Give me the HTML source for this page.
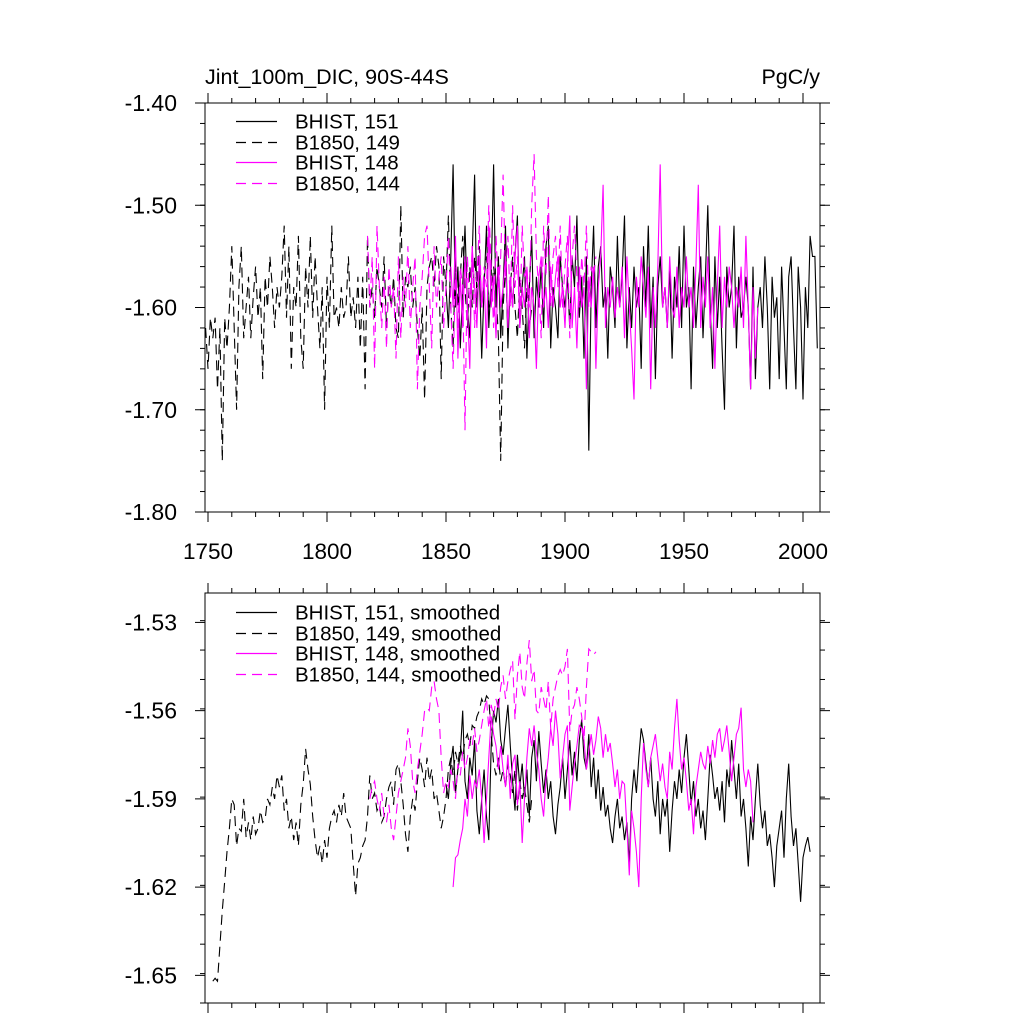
<!DOCTYPE html>
<html><head><meta charset="utf-8"><style>
html,body{margin:0;padding:0;background:#fff;}
svg text{font-family:"Liberation Sans",sans-serif;}
</style></head><body>
<svg id="chart" width="1024" height="1024" xmlns="http://www.w3.org/2000/svg">
<rect width="1024" height="1024" fill="#fff"/>
<g id="top"></g>
<g id="bot"></g>
</svg>
<script>
// ---------- data ----------
const topYTicks = [-1.40,-1.50,-1.60,-1.70,-1.80];
const topYTickLabels = ["-1.40","-1.50","-1.60","-1.70","-1.80"];
const botYTicks = [-1.53,-1.56,-1.59,-1.62,-1.65];
const botYTickLabels = ["-1.53","-1.56","-1.59","-1.62","-1.65"];
const xTicks = [1750,1800,1850,1900,1950,2000];
const xTickLabels = ["1750","1800","1850","1900","1950","2000"];

const b149Start = 1749;
const b149 = [-1.62,-1.66,-1.61,-1.63,-1.61,-1.68,-1.62,-1.75,-1.61,-1.64,
-1.60,-1.54,-1.62,-1.70,-1.58,-1.54,-1.63,-1.60,-1.57,-1.63,
-1.59,-1.56,-1.61,-1.58,-1.67,-1.57,-1.60,-1.55,-1.58,-1.62,
-1.58,-1.60,-1.57,-1.52,-1.61,-1.54,-1.66,-1.58,-1.60,-1.53,
-1.63,-1.66,-1.56,-1.60,-1.53,-1.61,-1.55,-1.60,-1.64,-1.58,
-1.70,-1.57,-1.62,-1.52,-1.61,-1.60,-1.62,-1.58,-1.61,-1.60,
-1.55,-1.61,-1.59,-1.62,-1.57,-1.64,-1.57,-1.68,-1.53,-1.60,
-1.58,-1.61,-1.56,-1.58,-1.60,-1.55,-1.62,-1.58,-1.60,-1.57,
-1.62,-1.63,-1.50,-1.61,-1.57,-1.58,-1.56,-1.60,-1.58,-1.62,
-1.65,-1.60,-1.69,-1.58,-1.56,-1.55,-1.58,-1.54,-1.56,-1.67,
-1.55,-1.58,-1.51,-1.60,-1.64,-1.55,-1.60,-1.57,-1.53,-1.58,
-1.62,-1.56,-1.60,-1.55,-1.58,-1.54,-1.60,-1.57,-1.55,-1.60,
-1.59,-1.56,-1.58,-1.63,-1.75,-1.60,-1.56,-1.62,-1.58,-1.55,
-1.60,-1.63,-1.57,-1.60,-1.64,-1.58,-1.62,-1.60];
const b144Start = 1817;
const b144 = [-1.53,-1.60,-1.55,-1.66,-1.52,-1.58,-1.62,-1.57,-1.64,-1.56,
-1.60,-1.58,-1.65,-1.55,-1.63,-1.57,-1.60,-1.54,-1.62,-1.58,
-1.55,-1.68,-1.60,-1.57,-1.53,-1.52,-1.58,-1.64,-1.54,-1.60,
-1.57,-1.55,-1.62,-1.58,-1.53,-1.60,-1.66,-1.57,-1.62,-1.56,
-1.58,-1.72,-1.55,-1.60,-1.54,-1.62,-1.57,-1.52,-1.60,-1.56,
-1.58,-1.50,-1.56,-1.62,-1.53,-1.58,-1.55,-1.47,-1.57,-1.53,
-1.60,-1.50,-1.58,-1.55,-1.62,-1.52,-1.57,-1.56,-1.60,-1.50,
-1.45,-1.55,-1.58,-1.63,-1.52,-1.57,-1.49,-1.60,-1.55,-1.53,
-1.58,-1.52,-1.60,-1.56,-1.53,-1.63,-1.55,-1.52,-1.57,-1.60,
-1.55,-1.58,-1.52,-1.60,-1.56,-1.57,-1.55];
const h151Start = 1850;
const h151 = [-1.58,-1.62,-1.55,-1.46,-1.60,-1.56,-1.64,-1.58,-1.52,-1.60,
-1.63,-1.55,-1.47,-1.60,-1.56,-1.65,-1.58,-1.52,-1.62,-1.57,
-1.46,-1.60,-1.55,-1.63,-1.58,-1.52,-1.64,-1.57,-1.60,-1.55,
-1.51,-1.62,-1.58,-1.55,-1.65,-1.58,-1.53,-1.63,-1.57,-1.60,
-1.56,-1.62,-1.54,-1.52,-1.64,-1.58,-1.60,-1.63,-1.55,-1.58,
-1.60,-1.57,-1.62,-1.55,-1.58,-1.51,-1.61,-1.57,-1.65,-1.55,
-1.74,-1.58,-1.52,-1.62,-1.56,-1.54,-1.60,-1.58,-1.65,-1.56,
-1.58,-1.62,-1.53,-1.60,-1.57,-1.51,-1.64,-1.58,-1.62,-1.56,
-1.60,-1.58,-1.66,-1.54,-1.60,-1.52,-1.62,-1.57,-1.67,-1.58,
-1.55,-1.60,-1.58,-1.62,-1.56,-1.65,-1.57,-1.60,-1.54,-1.62,
-1.52,-1.60,-1.58,-1.68,-1.56,-1.62,-1.58,-1.55,-1.63,-1.57,
-1.50,-1.60,-1.66,-1.55,-1.62,-1.57,-1.64,-1.70,-1.56,-1.60,
-1.58,-1.52,-1.64,-1.57,-1.61,-1.60,-1.57,-1.60,-1.68,-1.56,
-1.67,-1.60,-1.58,-1.62,-1.55,-1.60,-1.68,-1.57,-1.61,-1.59,
-1.67,-1.56,-1.62,-1.68,-1.57,-1.55,-1.62,-1.68,-1.56,-1.60,
-1.69,-1.58,-1.62,-1.53,-1.55,-1.55,-1.64];
const h148Start = 1852;
const h148 = [-1.56,-1.60,-1.53,-1.65,-1.57,-1.62,-1.55,-1.60,-1.66,-1.54,
-1.58,-1.62,-1.55,-1.60,-1.57,-1.64,-1.52,-1.60,-1.57,-1.63,
-1.56,-1.60,-1.58,-1.55,-1.62,-1.57,-1.60,-1.55,-1.52,-1.62,
-1.58,-1.60,-1.56,-1.63,-1.58,-1.60,-1.66,-1.57,-1.55,-1.60,
-1.58,-1.62,-1.56,-1.60,-1.57,-1.55,-1.60,-1.58,-1.62,-1.56,
-1.51,-1.62,-1.58,-1.64,-1.56,-1.60,-1.58,-1.68,-1.57,-1.60,
-1.56,-1.66,-1.58,-1.55,-1.48,-1.62,-1.58,-1.60,-1.57,-1.61,
-1.58,-1.60,-1.56,-1.63,-1.55,-1.60,-1.64,-1.69,-1.57,-1.60,
-1.55,-1.58,-1.61,-1.56,-1.68,-1.58,-1.62,-1.56,-1.46,-1.60,
-1.58,-1.62,-1.55,-1.60,-1.61,-1.56,-1.62,-1.58,-1.60,-1.55,
-1.60,-1.58,-1.62,-1.56,-1.48,-1.62,-1.57,-1.60,-1.55,-1.62,
-1.58,-1.66,-1.58,-1.52,-1.62,-1.57,-1.60,-1.56,-1.58,-1.62,
-1.58,-1.60,-1.56,-1.62,-1.53,-1.60,-1.68,-1.58,-1.65,-1.60];

const sb149Start = 1752;
const sb149 = [-1.652,-1.651,-1.652,-1.640,-1.628,-1.618,-1.608,-1.600,-1.590,-1.592,
-1.606,-1.600,-1.601,-1.590,-1.603,-1.598,-1.604,-1.596,-1.602,-1.600,
-1.594,-1.598,-1.597,-1.590,-1.592,-1.586,-1.590,-1.582,-1.586,-1.582,
-1.594,-1.590,-1.600,-1.596,-1.604,-1.598,-1.606,-1.592,-1.585,-1.573,
-1.580,-1.585,-1.596,-1.604,-1.610,-1.606,-1.612,-1.604,-1.610,-1.600,
-1.596,-1.594,-1.598,-1.592,-1.596,-1.588,-1.596,-1.598,-1.600,-1.612,
-1.623,-1.612,-1.610,-1.606,-1.604,-1.596,-1.582,-1.590,-1.588,-1.594,
-1.592,-1.598,-1.596,-1.590,-1.586,-1.584,-1.592,-1.580,-1.578,-1.584,
-1.592,-1.602,-1.608,-1.596,-1.590,-1.594,-1.584,-1.576,-1.580,-1.586,
-1.576,-1.584,-1.580,-1.590,-1.588,-1.594,-1.600,-1.596,-1.590,-1.580,
-1.576,-1.582,-1.574,-1.578,-1.572,-1.576,-1.570,-1.568,-1.572,-1.565,
-1.566,-1.562,-1.560,-1.556,-1.558,-1.555,-1.556,-1.568,-1.578,-1.582,
-1.576,-1.584,-1.580,-1.586,-1.578,-1.582,-1.588,-1.580,-1.594,-1.584,
-1.590,-1.586,-1.592,-1.598,-1.590];
const sb144Start = 1818;
const sb144 = [-1.590,-1.586,-1.584,-1.590,-1.594,-1.588,-1.596,-1.598,-1.592,-1.600,
-1.604,-1.596,-1.588,-1.584,-1.580,-1.576,-1.566,-1.572,-1.584,-1.588,
-1.580,-1.574,-1.568,-1.560,-1.559,-1.560,-1.552,-1.550,-1.556,-1.560,
-1.576,-1.588,-1.584,-1.586,-1.580,-1.584,-1.590,-1.578,-1.582,-1.574,
-1.580,-1.576,-1.570,-1.572,-1.566,-1.574,-1.570,-1.565,-1.560,-1.556,
-1.566,-1.558,-1.562,-1.556,-1.560,-1.552,-1.548,-1.556,-1.550,-1.546,
-1.543,-1.563,-1.548,-1.540,-1.552,-1.556,-1.544,-1.536,-1.550,-1.546,
-1.560,-1.561,-1.552,-1.556,-1.560,-1.550,-1.566,-1.556,-1.552,-1.548,
-1.546,-1.548,-1.545,-1.539,-1.567,-1.560,-1.558,-1.552,-1.556,-1.562,
-1.570,-1.552,-1.539,-1.540,-1.541,-1.540];
const sh151Start = 1850;
const sh151 = [-1.585,-1.590,-1.578,-1.572,-1.588,-1.580,-1.575,-1.560,-1.584,-1.590,
-1.576,-1.582,-1.570,-1.594,-1.602,-1.590,-1.580,-1.596,-1.604,-1.572,
-1.560,-1.564,-1.556,-1.570,-1.575,-1.566,-1.558,-1.572,-1.584,-1.594,
-1.575,-1.586,-1.578,-1.590,-1.580,-1.596,-1.576,-1.570,-1.584,-1.567,
-1.578,-1.588,-1.580,-1.590,-1.584,-1.596,-1.602,-1.592,-1.586,-1.576,
-1.590,-1.580,-1.570,-1.582,-1.574,-1.584,-1.570,-1.563,-1.576,-1.580,
-1.568,-1.586,-1.576,-1.590,-1.580,-1.594,-1.586,-1.596,-1.592,-1.600,
-1.605,-1.596,-1.590,-1.600,-1.596,-1.604,-1.598,-1.612,-1.590,-1.580,
-1.588,-1.576,-1.566,-1.570,-1.578,-1.586,-1.576,-1.590,-1.596,-1.584,
-1.602,-1.590,-1.596,-1.590,-1.608,-1.594,-1.584,-1.590,-1.580,-1.588,
-1.576,-1.568,-1.580,-1.592,-1.584,-1.596,-1.590,-1.600,-1.594,-1.604,
-1.590,-1.575,-1.582,-1.590,-1.586,-1.594,-1.584,-1.598,-1.580,-1.586,
-1.570,-1.580,-1.590,-1.578,-1.596,-1.590,-1.600,-1.613,-1.596,-1.604,
-1.590,-1.578,-1.592,-1.600,-1.594,-1.606,-1.602,-1.610,-1.620,-1.606,
-1.600,-1.594,-1.610,-1.590,-1.578,-1.596,-1.606,-1.600,-1.612,-1.625,
-1.610,-1.606,-1.603,-1.608];
const sh148Start = 1853;
const sh148 = [-1.620,-1.610,-1.609,-1.604,-1.600,-1.590,-1.596,-1.582,-1.590,-1.584,
-1.586,-1.580,-1.590,-1.605,-1.590,-1.576,-1.562,-1.568,-1.572,-1.580,
-1.572,-1.580,-1.586,-1.575,-1.590,-1.578,-1.575,-1.592,-1.584,-1.605,
-1.590,-1.576,-1.566,-1.572,-1.565,-1.574,-1.580,-1.590,-1.596,-1.583,
-1.576,-1.566,-1.572,-1.560,-1.568,-1.583,-1.576,-1.568,-1.565,-1.594,
-1.586,-1.578,-1.572,-1.565,-1.566,-1.570,-1.580,-1.574,-1.568,-1.575,
-1.570,-1.562,-1.566,-1.576,-1.568,-1.574,-1.571,-1.578,-1.586,-1.580,
-1.590,-1.584,-1.585,-1.600,-1.616,-1.594,-1.600,-1.608,-1.620,-1.590,
-1.571,-1.580,-1.586,-1.576,-1.572,-1.568,-1.576,-1.584,-1.578,-1.586,
-1.590,-1.574,-1.580,-1.566,-1.556,-1.570,-1.580,-1.576,-1.584,-1.594,
-1.590,-1.602,-1.586,-1.580,-1.574,-1.578,-1.580,-1.572,-1.578,-1.570,
-1.576,-1.568,-1.566,-1.574,-1.570,-1.565,-1.574,-1.584,-1.576,-1.568,
-1.566,-1.559,-1.580,-1.586,-1.580,-1.584,-1.598];

const topLegend = ["BHIST, 151","B1850, 149","BHIST, 148","B1850, 144"];
const botLegend = ["BHIST, 151, smoothed","B1850, 149, smoothed","BHIST, 148, smoothed","B1850, 144, smoothed"];

// ---------- drawing ----------
const NS = "http://www.w3.org/2000/svg";
const L = 205, R = 820;
const XMIN = 1748.74, XMAX = 2007.14;
function xs(v){ return L + (v - XMIN) / (XMAX - XMIN) * (R - L); }
function mk(tag, attrs, parent){ const e = document.createElementNS(NS, tag); for (const k in attrs) e.setAttribute(k, attrs[k]); parent.appendChild(e); return e; }

function panel(g, T, B, ymin, ymax, yt, ytl, yminor, showX, lines, legend, legY){
  const ys = v => B - (v - ymin) / (ymax - ymin) * (B - T);
  for (let yr = 1750; yr <= 2000; yr += 10){
    const x = xs(yr), major = yr % 50 === 0, len = major ? 10 : 5;
    const t1 = mk('line', {x1:x, x2:x, y1:B, y2:B+len, stroke:'#000', 'stroke-width':1}, g);
    
    
    const t2 = mk('line', {x1:x, x2:x, y1:T, y2:T-len, stroke:'#000', 'stroke-width':1}, g);
    
    
  }
  if (showX){
    xTicks.forEach((t, i) => {
      const tx = mk('text', {x:xs(t), y:B+47, 'font-size':22.5, 'text-anchor':'middle'}, g);
      tx.textContent = xTickLabels[i];
      
      
    });
  }
  for (let v = ymin; v <= ymax + 1e-9; v += yminor){
    const y = ys(v);
    const m1 = mk('line', {x1:L-5, x2:L, y1:y, y2:y, stroke:'#000', 'stroke-width':1}, g);
    
    
    const m2 = mk('line', {x1:R, x2:R+5, y1:y, y2:y, stroke:'#000', 'stroke-width':1}, g);
    
    
  }
  yt.forEach((v, i) => {
    const y = ys(v);
    const a = mk('line', {x1:L-10, x2:L, y1:y, y2:y, stroke:'#000', 'stroke-width':1}, g);
    
    
    const b = mk('line', {x1:R, x2:R+10, y1:y, y2:y, stroke:'#000', 'stroke-width':1}, g);
    
    
    const tx = mk('text', {x:L-28, y:y+8, 'font-size':23, 'text-anchor':'end'}, g);
    tx.textContent = ytl[i];
    
    
  });
  const clipId = 'c' + T;
  const cp = mk('clipPath', {id:clipId}, g);
  mk('rect', {x:L, y:T, width:R-L, height:B-T}, cp);
  lines.forEach(s => {
    const pts = s.vals.map((v, i) => xs(s.start + i).toFixed(1) + ',' + ys(v).toFixed(1)).join(' ');
    const p = mk('polyline', {points:pts, fill:'none', stroke:s.color, 'stroke-width':1.1, 'stroke-dasharray':s.dash ? '10,6' : 'none', 'clip-path':'url(#'+clipId+')'}, g);
    
    
  });
  const fr = mk('rect', {x:L, y:T, width:R-L, height:B-T, fill:'none', stroke:'#000', 'stroke-width':1}, g);
  
  
  legend.forEach((lab, i) => {
    const s = lines[i], y = Math.round(legY + i * 20.5) + 0.5;
    const ln = mk('line', {x1:236, x2:277, y1:y, y2:y, stroke:s.color, 'stroke-width':1.2, 'stroke-dasharray':s.dash ? '10,6' : 'none'}, g);
    
    
    const tx = mk('text', {x:295, y:y+7, 'font-size':20.5}, g);
    tx.textContent = lab;
    
    
  });
}

const gTop = document.getElementById('top');
panel(gTop, 103, 512, -1.80, -1.40, topYTicks, topYTickLabels, 0.02, true, [
  {vals:h151, start:h151Start, color:'#000', dash:false, name:'series-bhist-151'},
  {vals:b149, start:b149Start, color:'#000', dash:true, name:'series-b1850-149'},
  {vals:h148, start:h148Start, color:'#ff00ff', dash:false, name:'series-bhist-148'},
  {vals:b144, start:b144Start, color:'#ff00ff', dash:true, name:'series-b1850-144'}
], topLegend, 121);
const t1 = mk('text', {x:205, y:84, 'font-size':21.5}, gTop);
t1.textContent = 'Jint_100m_DIC, 90S-44S';


const t2 = mk('text', {x:820, y:84, 'font-size':21.5, 'text-anchor':'end'}, gTop);
t2.textContent = 'PgC/y';



const gBot = document.getElementById('bot');
panel(gBot, 593, 1003, -1.6594, -1.5200, botYTicks, botYTickLabels, 0.01, false, [
  {vals:sh151, start:sh151Start, color:'#000', dash:false, name:'series-bhist-151-smoothed'},
  {vals:sb149, start:sb149Start, color:'#000', dash:true, name:'series-b1850-149-smoothed'},
  {vals:sh148, start:sh148Start, color:'#ff00ff', dash:false, name:'series-bhist-148-smoothed'},
  {vals:sb144, start:sb144Start, color:'#ff00ff', dash:true, name:'series-b1850-144-smoothed'}
], botLegend, 612);
</script>
</body></html>
